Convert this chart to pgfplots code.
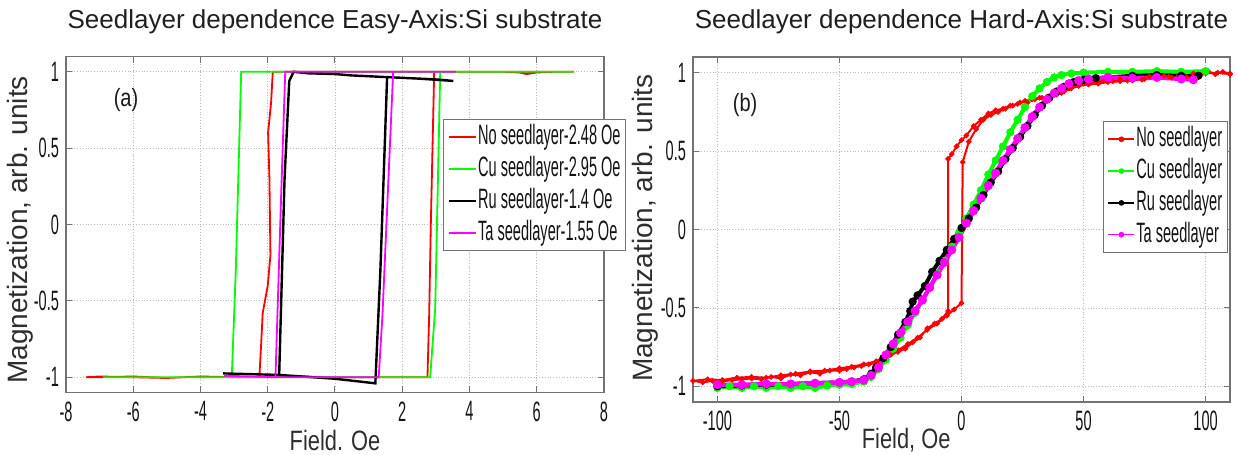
\documentclass[border=0pt]{standalone}
\usepackage{fontspec}
\setmainfont{Liberation Sans}
\newfontfamily\condfont[FakeStretch=0.52]{Liberation Sans}
\newfontfamily\labfont[FakeStretch=0.78]{Liberation Sans}
\newfontfamily\abfont[FakeStretch=0.8]{Liberation Sans}
\usepackage{pgfplots}
\pgfplotsset{compat=1.18}
\definecolor{axgray}{gray}{0.45}
\definecolor{cred}{RGB}{255,0,0}
\definecolor{cgrn}{RGB}{0,255,0}
\definecolor{cmag}{RGB}{255,0,255}
\pgfplotsset{
  common/.style={
    scale only axis,
    ymin=-1.1, ymax=1.1,
    ytick={-1,-0.5,0,0.5,1},
    grid=major,
    major grid style={densely dotted, gray!55},
    axis line style={axgray, line width=0.6pt},
    tick style={axgray, line width=0.5pt},
    major tick length=3pt,
    tick align=inside,
    /pgf/number format/assume math mode=true,
    ticklabel style={font=\condfont\fontsize{14}{14}\selectfont, text=black!92},
    xticklabel style={yshift=-1pt},
    title style={font=\fontsize{13}{13}\selectfont, anchor=center, text=black!88},
    label style={font=\fontsize{14}{14}\selectfont, text=black!82},
    legend cell align=left,
  },
}
\begin{document}
\begin{tikzpicture}
\path[use as bounding box] (0,0) rectangle (619pt,227.5pt);
% ---------------- Left panel -----------------
\begin{axis}[common,
  at={(33pt,31.25pt)}, anchor=south west,
  width=269pt, height=168pt,
  xmin=-8, xmax=8, xtick={-8,-6,-4,-2,0,2,4,6,8},
  title={Seedlayer dependence Easy-Axis:Si substrate},
  title style={at={(axis description cs:0.5,1)}, yshift=11.25pt},
  xlabel={Field. Oe},
  xlabel style={font=\labfont\fontsize{14}{14}\selectfont, at={(axis description cs:0.5,0)}, anchor=center, yshift=-23.75pt},
  ylabel={Magnetization, arb. units},
  ylabel style={at={(axis description cs:-0.0855,0.484)}, anchor=center},
  legend style={at={(axis description cs:0.7007,0.814)}, anchor=north west,
    draw=axgray, line width=0.6pt, fill=white, inner sep=2pt, row sep=2.2pt,
    font=\condfont\fontsize{14}{14}\selectfont,
    nodes={inner sep=0.6pt, text height=10pt, text depth=2.5pt, text=black!92}},
  legend image code/.code={\draw[#1] (0pt,0pt) -- (13.5pt,0pt);},
]
\addplot[cred, line width=0.9pt] coordinates {
(-7.4,-1.0) (-7.0,-0.995) (-6.0,-1.0) (-5.0,-1.005) (-4.0,-0.995) (-3.0,-1.0)
(-2.0,-1.0) (-1.0,-0.995) (0,-1.0) (1.0,-1.0) (2.0,-1.0) (2.75,-1.0)
(2.8,-0.6) (2.85,0.0) (2.9,0.5) (2.95,1.0)
(4.0,1.0) (5.0,1.0) (5.5,0.995) (5.7,0.985) (6.0,0.995) (6.5,1.0) (7.1,1.0)
(6.0,1.0) (5.0,1.0) (4.0,1.0) (3.0,1.0) (2.0,1.0) (1.0,1.0) (0,1.0) (-1.0,1.0) (-1.85,1.0)
(-1.9,0.8) (-1.99,0.6) (-1.95,0.3) (-1.92,-0.2) (-2.0,-0.4) (-2.15,-0.58) (-2.2,-0.8) (-2.25,-1.0)
(-3.0,-1.0) (-4.0,-0.995) (-5.0,-1.005) (-6.0,-0.995) (-7.0,-1.0) (-7.4,-1.0)
};
\addlegendentry{No seedlayer-2.48 Oe}
\addplot[cgrn, line width=0.9pt] coordinates {
(-6.9,-1.0) (-5.0,-1.0) (-3.0,-1.0) (-1.0,-1.0) (1.0,-1.0) (2.83,-1.0)
(2.98,-0.55) (3.13,1.0) (5.0,1.0) (7.1,1.0)
(5.0,1.0) (3.0,1.0) (1.0,1.0) (-1.0,1.0) (-2.79,1.0)
(-2.95,-0.3) (-3.07,-1.0) (-5.0,-1.0) (-6.9,-1.0)
};
\addlegendentry{Cu seedlayer-2.95 Oe}
\addplot[black, line width=1.2pt] coordinates {
(-3.33,-0.975) (-2.5,-0.98) (-1.66,-0.985) (0,-1.01) (1.2,-1.04)
(1.35,-0.3) (1.55,0.965) (2.5,0.955) (3.52,0.94)
(3.0,0.95) (1.55,0.965) (0.5,0.976) (0,0.985) (-0.8,0.99) (-1.23,1.0)
(-1.36,0.94) (-1.5,0.3) (-1.66,-0.985) (-3.33,-0.975)
};
\addlegendentry{Ru seedlayer-1.4 Oe}
\addplot[cmag, line width=0.9pt] coordinates {
(-3.3,-0.99) (-1.77,-1.0) (0,-1.0) (1.3,-1.0)
(1.41,-0.6) (1.73,1.0) (2.5,1.0) (3.6,1.0)
(2.0,1.0) (0,1.0) (-1.48,1.0)
(-1.6,0.2) (-1.77,-1.0) (-3.3,-0.99)
};
\addlegendentry{Ta seedlayer-1.55 Oe}
\node[font=\abfont\fontsize{12.5}{12.5}\selectfont, text=black!90] at (axis description cs:0.1115,0.87) {(a)};
\end{axis}
% ---------------- Right panel -----------------
\begin{axis}[common,
  at={(346.5pt,26.5pt)}, anchor=south west,
  width=268.5pt, height=172.5pt,
  xmin=-110, xmax=110, xtick={-100,-50,0,50,100},
  title={Seedlayer dependence Hard-Axis:Si substrate},
  title style={at={(axis description cs:0.5,1)}, yshift=11.8pt},
  xlabel={Field, Oe},
  xlabel style={font=\labfont\fontsize{14}{14}\selectfont, at={(axis description cs:0.397,0)}, anchor=center, yshift=-19pt},
  ylabel={Magnetization, arb. units},
  ylabel style={at={(axis description cs:-0.0894,0.504)}, anchor=center},
  legend style={at={(axis description cs:0.7635,0.8145)}, anchor=north west,
    draw=axgray, line width=0.6pt, fill=white, inner sep=2pt, row sep=2.2pt,
    font=\condfont\fontsize{14}{14}\selectfont,
    nodes={inner sep=0.6pt, text height=10pt, text depth=2.5pt, text=black!92}},
  legend image code/.code={\draw[#1,line width=0.8pt,mark size=1pt,mark repeat=2,mark phase=2] plot coordinates {(0pt,0pt) (6.5pt,0pt) (13pt,0pt)};},
]
\addplot[cred, line width=1pt, mark=*, mark size=0.8pt] coordinates {
(110,0.995) (107,1.005) (104,0.99) (101,1.01) (98,0.985) (95,0.995) (92,0.975) (89,0.985) (86,0.97) (83,0.98) (80,0.965) (77,0.975) (74,0.955) (71,0.965) (68,0.95) (65,0.96) (62,0.945) (59,0.955) (56,0.94) (53,0.935) (50,0.93) (47,0.92) (44,0.9) (41,0.87) (38,0.86) (35,0.845) (32,0.84) (29,0.83) (26,0.82) (23,0.8) (20,0.79) (17,0.77) (14,0.76) (11,0.74) (8,0.7) (5,0.66) (2,0.6) (0,0.57) (-2,0.53) (-4,0.48) (-5.5,0.45)
(-5.5,-0.52) (-8,-0.57) (-11,-0.6) (-14,-0.63) (-17,-0.69) (-20,-0.72) (-23,-0.76) (-26,-0.78) (-29,-0.8) (-32,-0.82) (-35,-0.85) (-38,-0.86) (-41,-0.87) (-44,-0.88) (-47,-0.89) (-50,-0.9) (-54,-0.9) (-58,-0.92) (-62,-0.91) (-66,-0.93) (-70,-0.925) (-74,-0.95) (-78,-0.94) (-82,-0.955) (-86,-0.95) (-90,-0.955) (-94,-0.96) (-98,-0.97) (-102,-0.965) (-106,-0.975) (-110,-0.965)
(-104,-0.955) (-98,-0.96) (-92,-0.945) (-86,-0.94) (-80,-0.945) (-74,-0.93) (-68,-0.92) (-62,-0.905) (-56,-0.9) (-50,-0.885) (-45,-0.875) (-40,-0.86) (-35,-0.84) (-30,-0.8) (-26,-0.77) (-22,-0.73) (-18,-0.69) (-14,-0.64) (-10,-0.6) (-6,-0.55) (-3,-0.51) (0,-0.47)
(0.5,0.43) (3,0.56) (6,0.64) (9,0.7) (12,0.73) (15,0.75) (18,0.77) (21,0.79) (24,0.81) (27,0.81) (30,0.83) (33,0.84) (36,0.85) (39,0.86) (42,0.88) (45,0.9) (48,0.915) (52,0.925) (56,0.93) (60,0.94) (65,0.945) (70,0.95) (75,0.96) (80,0.965) (85,0.975) (90,0.98) (95,0.99) (100,0.995) (105,1.0) (110,0.99)
};
\addlegendentry{No seedlayer}
\addplot[cgrn, line width=2pt, mark=*, mark size=1pt] coordinates {
(-100,-1.01) (-95,-1.0) (-90,-1.01) (-85,-1.0) (-80,-1.01) (-75,-1.0) (-70,-1.01) (-65,-1.0) (-60,-1.01) (-55,-0.995) (-50,-0.99) (-45,-0.985) (-40,-0.97) (-37,-0.94) (-34,-0.89) (-31,-0.83) (-28,-0.76) (-25,-0.69) (-22,-0.61) (-19,-0.53) (-16,-0.45) (-13,-0.37) (-10,-0.28) (-7,-0.2) (-4,-0.11) (-1,-0.02) (2,0.07) (5,0.16) (8,0.25) (11,0.35) (14,0.44) (17,0.53) (20,0.62) (23,0.7) (26,0.78) (29,0.85) (32,0.9) (35,0.94) (38,0.97) (41,0.985) (45,0.995) (50,1.0) (60,1.005) (70,1.005) (80,1.01) (90,1.005) (100,1.01)
};
\addlegendentry{Cu seedlayer}
\addplot[black, line width=2pt, mark=*, mark size=1pt] coordinates {
(-100,-1.0) (-90,-0.995) (-80,-0.99) (-70,-0.985) (-60,-0.98) (-50,-0.975) (-45,-0.97) (-40,-0.955) (-37,-0.92) (-35,-0.88) (-32,-0.82) (-29,-0.75) (-26,-0.67) (-23,-0.59) (-21,-0.52) (-20,-0.46) (-18,-0.42) (-15,-0.36) (-12,-0.27) (-9,-0.2) (-6,-0.13) (-3,-0.06) (0,0.01) (3,0.07) (6,0.14) (9,0.22) (12,0.3) (15,0.37) (18,0.45) (21,0.52) (24,0.59) (27,0.66) (30,0.73) (33,0.79) (36,0.84) (39,0.88) (42,0.91) (46,0.94) (50,0.955) (55,0.965) (60,0.97) (70,0.98) (80,0.985) (90,0.98) (97,0.98)
};
\addlegendentry{Ru seedlayer}
\addplot[cmag, line width=2.2pt, mark=*, mark size=1.1pt] coordinates {
(-100,-0.99) (-90,-0.99) (-80,-0.985) (-70,-0.985) (-60,-0.98) (-50,-0.975) (-45,-0.97) (-40,-0.96) (-37,-0.93) (-34,-0.88) (-31,-0.8) (-28,-0.73) (-25,-0.66) (-22,-0.59) (-19,-0.52) (-16,-0.45) (-13,-0.37) (-10,-0.29) (-7,-0.21) (-4,-0.13) (-1,-0.05) (2,0.04) (5,0.12) (8,0.2) (11,0.28) (14,0.36) (17,0.44) (20,0.51) (23,0.58) (26,0.65) (29,0.72) (32,0.78) (35,0.83) (38,0.87) (41,0.9) (44,0.93) (48,0.95) (52,0.96) (60,0.97) (70,0.965) (80,0.97) (90,0.96) (95,0.955)
};
\addlegendentry{Ta seedlayer}
\node[font=\abfont\fontsize{12.5}{12.5}\selectfont, text=black!90] at (axis description cs:0.097,0.861) {(b)};
\end{axis}
\end{tikzpicture}
\end{document}
